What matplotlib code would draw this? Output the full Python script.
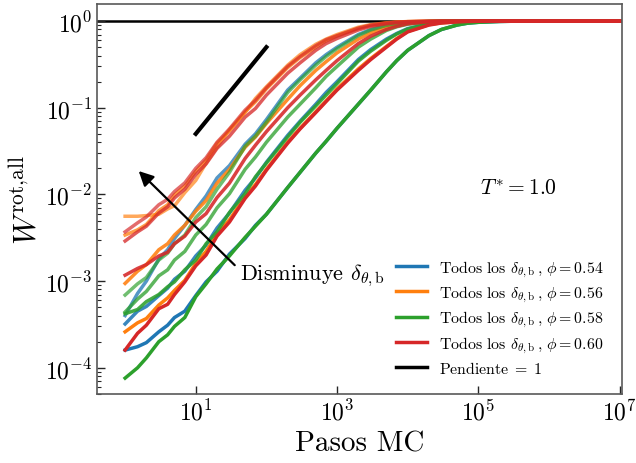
import numpy as np
import matplotlib
matplotlib.use("Agg")
import matplotlib.pyplot as plt
from matplotlib.lines import Line2D
from matplotlib.ticker import FixedLocator, NullLocator, LogLocator

plt.rcParams['mathtext.fontset'] = 'cm'
plt.rcParams['font.family'] = 'serif'
plt.rcParams['font.serif'] = ['cmr10']
plt.rcParams['axes.formatter.use_mathtext'] = True
plt.rcParams['axes.unicode_minus'] = False

# Monte Carlo steps (sampling grid)
pasos = [1, 1.5, 2, 3, 4, 5, 7, 10, 14, 20, 30, 50, 70, 100, 200, 300, 500, 700,
         1e3, 2e3, 3e3, 5e3, 7e3, 1e4, 2e4, 3e4, 5e4, 7e4, 1e5, 2e5, 3e5, 1e6, 1e7]

phis = [0.54, 0.56, 0.58, 0.60]
colores = ['#1f77b4', '#ff7f0e', '#2ca02c', '#d62728']

# phi = 0.54 (blue)
w054_a = [1.6e-4, 1.75e-4, 1.95e-4, 2.6e-4, 3.1e-4, 3.8e-4, 4.5e-4, 6.8e-4, 9.8e-4, 1.3e-3, 2.05e-3, 3.1e-3, 4.4e-3, 5.9e-3,
          1.2e-2, 1.8e-2, 3.0e-2, 4.1e-2, 5.8e-2, 0.11, 0.16, 0.26, 0.35, 0.46, 0.68, 0.80, 0.90, 0.945, 0.968, 0.99, 0.996, 1.0, 1.0]
w054_b = [3.2e-4, 4.5e-4, 5.1e-4, 6.8e-4, 8.3e-4, 1.05e-3, 1.3e-3, 1.95e-3, 2.6e-3, 4.1e-3, 6.1e-3, 1.12e-2, 1.55e-2, 2.35e-2,
          4.8e-2, 7.0e-2, 0.11, 0.15, 0.2, 0.36, 0.47, 0.62, 0.72, 0.82, 0.93, 0.965, 0.985, 0.993, 0.997, 1.0, 1.0, 1.0, 1.0]
w054_c = [4.0e-4, 7.2e-4, 1.0e-3, 1.8e-3, 2.3e-3, 3.1e-3, 4.4e-3, 6.7e-3, 9.6e-3, 1.55e-2, 2.15e-2, 3.8e-2, 5.0e-2, 7.3e-2,
          0.16, 0.22, 0.33, 0.41, 0.5, 0.7, 0.8, 0.9, 0.94, 0.965, 0.99, 0.996, 1.0, 1.0, 1.0, 1.0, 1.0, 1.0, 1.0]

# phi = 0.56 (orange)
w056_a = [2.6e-4, 3.3e-4, 3.7e-4, 5.3e-4, 6.4e-4, 7.8e-4, 1.02e-3, 1.6e-3, 2.2e-3, 3.5e-3, 5.1e-3, 9.4e-3, 1.3e-2, 1.95e-2,
          4.0e-2, 5.8e-2, 9.0e-2, 0.12, 0.165, 0.28, 0.37, 0.51, 0.63, 0.76, 0.91, 0.955, 0.98, 0.99, 0.995, 1.0, 1.0, 1.0, 1.0]
w056_b = [9.4e-4, 1.3e-3, 1.55e-3, 2.3e-3, 2.7e-3, 3.4e-3, 4.4e-3, 6.4e-3, 8.5e-3, 1.35e-2, 1.95e-2, 3.5e-2, 4.6e-2, 6.6e-2,
          0.125, 0.18, 0.27, 0.34, 0.43, 0.62, 0.73, 0.85, 0.91, 0.95, 0.985, 0.995, 1.0, 1.0, 1.0, 1.0, 1.0, 1.0, 1.0]
w056_c = [3.4e-3, 3.9e-3, 4.5e-3, 6.5e-3, 7.6e-3, 9.9e-3, 1.25e-2, 1.85e-2, 2.5e-2, 3.9e-2, 5.4e-2, 9.0e-2, 0.117, 0.165,
          0.29, 0.38, 0.5, 0.59, 0.67, 0.82, 0.89, 0.945, 0.97, 0.985, 0.997, 1.0, 1.0, 1.0, 1.0, 1.0, 1.0, 1.0, 1.0]
w056_d = [5.6e-3, 5.6e-3, 5.7e-3, 5.9e-3, 6.8e-3, 7.4e-3, 1.05e-2, 1.45e-2, 2.3e-2, 3.5e-2, 5.6e-2, 8.8e-2, 0.128, 0.175,
          0.31, 0.41, 0.54, 0.62, 0.7, 0.85, 0.91, 0.955, 0.975, 0.988, 0.998, 1.0, 1.0, 1.0, 1.0, 1.0, 1.0, 1.0, 1.0]

# phi = 0.58 (green)
w058_a = [7.6e-5, 1.0e-4, 1.3e-4, 2.0e-4, 2.4e-4, 3.0e-4, 3.8e-4, 6.6e-4, 9.3e-4, 1.38e-3, 1.95e-3, 3.2e-3, 4.3e-3, 5.9e-3,
          1.2e-2, 1.8e-2, 3.0e-2, 4.1e-2, 5.8e-2, 0.11, 0.16, 0.26, 0.35, 0.46, 0.68, 0.80, 0.90, 0.945, 0.968, 0.99, 0.996, 1.0, 1.0]
w058_b = [4.2e-4, 4.7e-4, 5.8e-4, 7.0e-4, 8.6e-4, 9.8e-4, 1.35e-3, 1.75e-3, 2.7e-3, 3.7e-3, 6.2e-3, 1.02e-2, 1.6e-2, 2.3e-2,
          4.6e-2, 6.8e-2, 0.105, 0.14, 0.19, 0.345, 0.45, 0.6, 0.71, 0.81, 0.93, 0.965, 0.985, 0.993, 0.997, 1.0, 1.0, 1.0, 1.0]
w058_c = [4.4e-4, 6.2e-4, 7.6e-4, 1.15e-3, 1.35e-3, 1.75e-3, 2.2e-3, 3.4e-3, 4.5e-3, 7.0e-3, 1.02e-2, 1.95e-2, 2.7e-2, 4.0e-2,
          7.8e-2, 0.11, 0.17, 0.23, 0.3, 0.5, 0.62, 0.78, 0.86, 0.92, 0.975, 0.99, 0.997, 1.0, 1.0, 1.0, 1.0, 1.0, 1.0]
w058_d = [6.9e-4, 9.3e-4, 1.1e-3, 1.75e-3, 2.1e-3, 2.7e-3, 3.4e-3, 5.4e-3, 7.2e-3, 1.15e-2, 1.8e-2, 3.6e-2, 4.7e-2, 6.8e-2,
          0.15, 0.21, 0.31, 0.39, 0.48, 0.68, 0.79, 0.89, 0.935, 0.96, 0.99, 0.997, 1.0, 1.0, 1.0, 1.0, 1.0, 1.0, 1.0]

# phi = 0.60 (red)
w060_a = [1.6e-4, 2.5e-4, 3.1e-4, 4.8e-4, 5.4e-4, 7.0e-4, 9.8e-4, 1.5e-3, 2.0e-3, 3.3e-3, 4.8e-3, 9.0e-3, 1.25e-2, 1.9e-2,
          3.9e-2, 5.7e-2, 8.8e-2, 0.118, 0.16, 0.27, 0.36, 0.5, 0.62, 0.75, 0.9, 0.95, 0.978, 0.99, 0.995, 1.0, 1.0, 1.0, 1.0]
w060_b = [1.17e-3, 1.4e-3, 1.55e-3, 1.95e-3, 2.15e-3, 2.7e-3, 3.3e-3, 4.8e-3, 6.0e-3, 9.2e-3, 1.35e-2, 2.6e-2, 3.7e-2, 5.3e-2,
          0.1, 0.14, 0.21, 0.27, 0.35, 0.55, 0.67, 0.8, 0.87, 0.93, 0.98, 0.992, 0.998, 1.0, 1.0, 1.0, 1.0, 1.0, 1.0]
w060_c = [2.9e-3, 3.7e-3, 4.3e-3, 6.1e-3, 7.2e-3, 9.1e-3, 1.15e-2, 1.7e-2, 2.25e-2, 3.4e-2, 4.7e-2, 7.8e-2, 0.098, 0.14,
          0.25, 0.33, 0.46, 0.55, 0.63, 0.79, 0.87, 0.93, 0.96, 0.98, 0.995, 1.0, 1.0, 1.0, 1.0, 1.0, 1.0, 1.0, 1.0]
w060_d = [3.7e-3, 4.7e-3, 5.5e-3, 7.6e-3, 8.8e-3, 1.08e-2, 1.36e-2, 2.0e-2, 2.65e-2, 4.0e-2, 5.7e-2, 9.4e-2, 0.122, 0.17,
          0.3, 0.39, 0.52, 0.61, 0.68, 0.83, 0.9, 0.95, 0.972, 0.985, 0.997, 1.0, 1.0, 1.0, 1.0, 1.0, 1.0, 1.0, 1.0]

series_054 = [w054_a, w054_b, w054_c]
series_056 = [w056_a, w056_b, w056_c, w056_d]
series_058 = [w058_a, w058_b, w058_c, w058_d]
series_060 = [w060_a, w060_b, w060_c, w060_d]
alphas = [1.0, 0.88, 0.76, 0.68]

pendiente_x = [10, 100]
pendiente_y = [0.05, 0.5]

fig = plt.figure(figsize=(6.36, 4.64), dpi=100)
ax = fig.add_axes([0.1525, 0.149, 0.8255, 0.840])

for col, group in zip(colores, [series_054, series_056, series_058, series_060]):
    for i, w in enumerate(group):
        ax.plot(pasos, w, color=col, alpha=alphas[i], lw=2.5, zorder=2)

ax.axhline(1.0, color='k', lw=1.8, zorder=1)
ax.plot(pendiente_x, pendiente_y, color='k', lw=3, zorder=3)

ax.set_xscale('log')
ax.set_yscale('log')
ax.set_xlim(0.4, 1.08e7)
ax.set_ylim(5e-5, 1.57)

ax.xaxis.set_major_locator(FixedLocator([1e1, 1e3, 1e5, 1e7]))
ax.xaxis.set_minor_locator(NullLocator())
ax.yaxis.set_major_locator(FixedLocator([1e-4, 1e-3, 1e-2, 1e-1, 1e0]))
ax.yaxis.set_minor_locator(LogLocator(base=10, subs=np.arange(2, 10) * 1.0, numticks=20))

ax.tick_params(which='both', direction='in', colors='0.15', labelcolor='k')
ax.tick_params(which='major', length=6, width=1, labelsize=17)
ax.tick_params(which='minor', length=3, width=0.8)
for s in ax.spines.values():
    s.set_color('0.35')
    s.set_linewidth(1.2)

ax.set_xlabel('Pasos MC', fontsize=21, labelpad=4)
ax.set_ylabel(r'$W^{\mathrm{rot{,}all}}$', fontsize=22, labelpad=2)

ax.annotate('', xy=(1.46, 0.0196), xytext=(38, 1.45e-3),
            arrowprops=dict(arrowstyle='-|>', color='k', lw=1.6, mutation_scale=22))
ax.text(42, 1.17e-3, r'Disminuye $\delta_{\theta,\mathrm{b}}$', fontsize=16,
        ha='left', va='center')
ax.text(1.05e5, 0.012, r'$T^{*} = 1.0$', fontsize=15.5, ha='left', va='center')

handles = [Line2D([0], [0], color=c, lw=2.5) for c in colores]
labels = [r'Todos los $\delta_{\theta,\mathrm{b}}\,$, $\phi = %.2f$' % p for p in phis]
handles.append(Line2D([0], [0], color='k', lw=2.5))
labels.append(r'Pendiente$\;=\;1$')
ax.legend(handles, labels, loc='lower right', frameon=False, fontsize=11.4,
          handlelength=2.0, handletextpad=0.75, labelspacing=0.32,
          borderaxespad=0.75)

fig.savefig('out.png', dpi=100)
